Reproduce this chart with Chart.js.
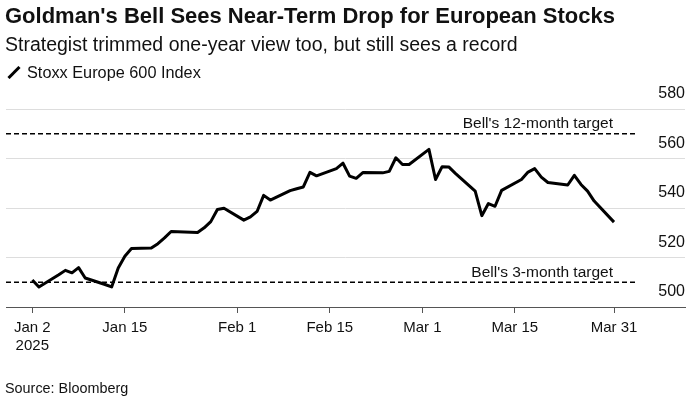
<!DOCTYPE html>
<html>
<head>
<meta charset="utf-8">
<script src="https://cdn.jsdelivr.net/npm/chart.js@4"></script>
<style>
  body { margin: 0; background: #fff; font-family: "Liberation Sans", Arial, sans-serif; color: #111; }
  #wrap { position: relative; width: 698px; height: 411px; overflow: hidden; }
  #chart { position: absolute; left: 0; top: 0; }
  .txt { position: absolute; left: 5px; white-space: nowrap; line-height: 1.2; }
  #title { top: 3px; font-size: 22px; font-weight: bold; }
  #subtitle { top: 33px; font-size: 19.5px; }
  #legend { top: 63px; font-size: 16.3px; left: 7px; }
  #legend svg { vertical-align: -1px; margin-right: 6px; }
  #source { top: 380px; font-size: 14.4px; }
</style>
</head>
<body>
<div id="wrap">
  <canvas id="chart" width="698" height="411"></canvas>
  <div class="txt" id="title">Goldman's Bell Sees Near-Term Drop for European Stocks</div>
  <div class="txt" id="subtitle">Strategist trimmed one-year view too, but still sees a record</div>
  <div class="txt" id="legend"><svg width="14" height="13"><line x1="1.5" y1="12" x2="12.5" y2="1" stroke="#000" stroke-width="3"/></svg>Stoxx Europe 600 Index</div>
  <div class="txt" id="source">Source: Bloomberg</div>
</div>
<script>
// days counted from Jan 1 2025 (Jan 2 = 1), trading days only
var days = [1, 2, 5, 6, 7, 8, 9, 12, 13, 14, 15, 16, 19, 20, 21, 22, 23, 26, 27, 28, 29, 30,
    33, 34, 35, 36, 37, 40, 41, 42, 43, 44, 47, 48, 49, 50, 51, 54, 55, 56, 57, 58,
    61, 62, 63, 64, 65, 68, 69, 70, 71, 72, 75, 76, 77, 78, 79, 82, 83, 84, 85, 86, 89];
var stoxx = [510.9, 508.1, 513.0, 514.8, 513.8, 515.9, 511.7, 509.1, 508.1, 515.8, 520.5, 523.6, 523.8, 525.6, 527.9, 530.5, 530.4, 530.1, 532.0, 534.5, 539.4, 539.9,
    535.1, 536.4, 538.6, 545.1, 543.2, 547.0, 547.8, 548.5, 554.4, 553.0, 555.9, 558.1, 552.9, 552.0, 554.3, 554.2, 554.8, 560.3, 557.6, 557.6,
    563.7, 551.5, 556.7, 556.6, 554.0, 546.8, 536.9, 541.8, 540.7, 547.1, 551.5, 554.5, 555.9, 552.5, 550.3, 549.3, 553.2, 549.5, 546.8, 542.8, 534.3];

var tickDays = [1, 15, 32, 46, 60, 74, 89];
var tickLabels = [['Jan 2', '2025'], 'Jan 15', 'Feb 1', 'Feb 15', 'Mar 1', 'Mar 15', 'Mar 31'];
var yTicks = [500, 520, 540, 560, 580];

var targets = [
    { value: 570, label: "Bell's 12-month target" },
    { value: 510, label: "Bell's 3-month target" }
];

var points = days.map(function (d, i) { return { x: d, y: stoxx[i] }; });

var targetLines = {
    id: 'targetLines',
    afterDatasetsDraw: function (chart) {
        var ctx = chart.ctx;
        var area = chart.chartArea;
        var y = chart.scales.y;
        ctx.save();
        targets.forEach(function (t) {
            var py = y.getPixelForValue(t.value);
            ctx.beginPath();
            ctx.setLineDash([5, 3]);
            ctx.lineWidth = 1.5;
            ctx.strokeStyle = '#000';
            ctx.moveTo(area.left, py);
            ctx.lineTo(637, py);
            ctx.stroke();
            ctx.setLineDash([]);
            ctx.fillStyle = '#111';
            ctx.font = '15.5px "Liberation Sans", Arial, sans-serif';
            ctx.textAlign = 'right';
            ctx.textBaseline = 'middle';
            ctx.fillText(t.label, 613, py - 10);
        });
        ctx.restore();
    }
};

var stoxxChart = new Chart(document.getElementById('chart').getContext('2d'), {
    type: 'line',
    data: {
        datasets: [{
            label: 'Stoxx Europe 600 Index',
            data: points,
            borderColor: '#000',
            borderWidth: 3,
            pointRadius: 0,
            tension: 0,
            borderJoinStyle: 'round',
            fill: false
        }]
    },
    options: {
        responsive: false,
        animation: false,
        layout: { padding: { left: 6, right: 13, top: 109, bottom: 0 } },
        plugins: { legend: { display: false }, tooltip: { enabled: false } },
        scales: {
            x: {
                type: 'linear',
                min: -2.98,
                max: 99.74,
                afterBuildTicks: function (s) { s.ticks = tickDays.map(function (v) { return { value: v }; }); },
                afterFit: function (s) { s.height = 104; },
                grid: { drawOnChartArea: false, drawTicks: true, tickLength: 6, color: '#555', lineWidth: 1 },
                border: { display: true, color: '#555', width: 1 },
                ticks: {
                    autoSkip: false,
                    maxRotation: 0,
                    padding: 6,
                    color: '#111',
                    font: { family: '"Liberation Sans", Arial, sans-serif', size: 15 },
                    callback: function (v) { return tickLabels[tickDays.indexOf(v)]; }
                }
            },
            y: {
                position: 'right',
                min: 500,
                max: 580,
                afterBuildTicks: function (s) { s.ticks = yTicks.map(function (v) { return { value: v }; }); },
                afterFit: function (s) { s.width = 0; },
                grid: {
                    drawTicks: false,
                    color: function (c) { return c.tick && c.tick.value === 500 ? 'rgba(0,0,0,0)' : '#dddddd'; },
                    lineWidth: 1
                },
                border: { display: false },
                ticks: {
                    mirror: true,
                    padding: 0,
                    labelOffset: -15,
                    color: '#111',
                    font: { family: '"Liberation Sans", Arial, sans-serif', size: 16 }
                }
            }
        }
    },
    plugins: [targetLines]
});
</script>
</body>
</html>
